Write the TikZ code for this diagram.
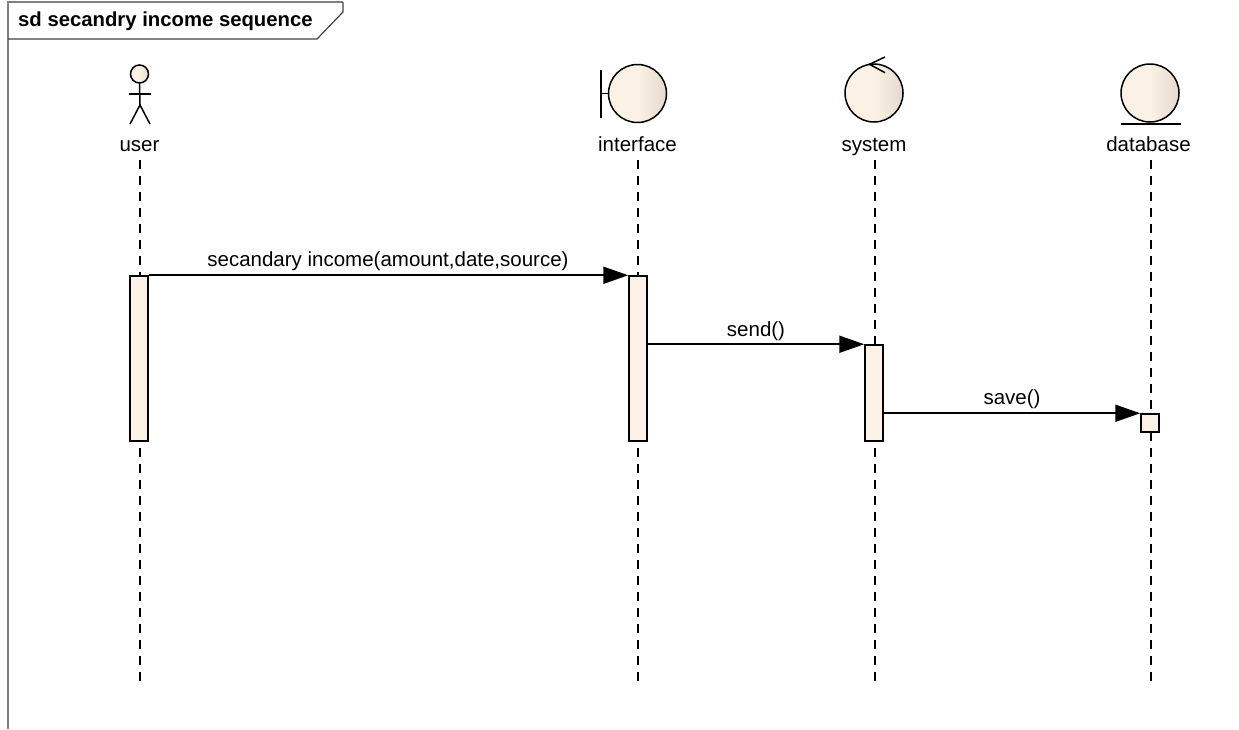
\documentclass[tikz,border=0pt]{standalone}
\usepackage{fontspec}
\setmainfont{Liberation Sans}
\usetikzlibrary{arrows.meta}
\definecolor{boxfill}{HTML}{FBF1E4}
\definecolor{orbedge}{HTML}{E3DACD}
\definecolor{framegray}{HTML}{7F7F7F}
\pgfdeclarehorizontalshading{orbshade}{100bp}{color(0bp)=(boxfill); color(50bp)=(boxfill); color(75bp)=(orbedge); color(100bp)=(orbedge)}
\tikzset{
  orb/.style={circle,draw=black,line width=1.5pt,shading=orbshade,minimum size=58pt,inner sep=0pt},
  glyph/.style={line width=1.5pt,draw=black},
  lifeline/.style={line width=1.6pt,draw=black,dash pattern=on 9pt off 7pt},
  activation/.style={rectangle,draw=black,line width=1.5pt,fill=boxfill,inner sep=0pt,minimum width=18pt},
  msg/.style={line width=1.9pt,draw=black,-{Triangle[length=25pt,width=17pt]}},
  label/.style={font=\fontsize{20.5}{24}\selectfont,inner sep=0pt,text=black,anchor=base},
  titlelabel/.style={font=\fontsize{20.3}{24}\selectfont\bfseries,inner sep=0pt,text=black,anchor=base west},
  framegrayline/.style={line width=1.5pt,draw=framegray},
  framedark/.style={line width=1.2pt,draw=black!75}
}
\begin{document}
\begin{tikzpicture}[x=1pt,y=-1pt]
\useasboundingbox (0,0) rectangle (1239,729);
% frame
\coordinate (fa) at (8,729);
\coordinate (fb) at (8,2);
\coordinate (fc) at (343,2);
\coordinate (fd) at (343,12);
\coordinate (fe) at (317,39);
\coordinate (ff) at (8,39);
\draw[framegrayline] (fa) -- (fb) -- (fc);
\draw[framedark] (fc) -- (fd) -- (fe) -- (ff);
\node[titlelabel] (title) at (18,26.5) {sd secandry income sequence};
% lifelines
\coordinate (ut) at (140,160);  \coordinate (ub) at (140,688);
\coordinate (it) at (638,160);  \coordinate (ib) at (638,688);
\coordinate (st) at (875,160);  \coordinate (sb) at (875,688);
\coordinate (dt) at (1151,160); \coordinate (db) at (1151,688);
\draw[lifeline] (ut) -- (ub);
\draw[lifeline] (it) -- (ib);
\draw[lifeline] (st) -- (sb);
\draw[lifeline] (dt) -- (db);
% actor
\node[circle,draw=black,line width=1.5pt,shading=orbshade,minimum size=18pt,inner sep=0pt] (head) at (139.5,74) {};
\coordinate (hip) at (140,105);
\coordinate (armL) at (129,94);
\coordinate (armR) at (151,94);
\coordinate (legL) at (130,124);
\coordinate (legR) at (150,124);
\draw[glyph] (head.south) -- (hip);
\draw[glyph] (armL) -- (armR);
\draw[glyph] (legL) -- (hip) -- (legR);
\node[label] (user) at (139.5,151) {user};
% interface
\node[orb] (iface) at (637.5,93.5) {};
\coordinate (barT) at (601,70);
\coordinate (barB) at (601,118);
\draw[glyph] (barT) -- (barB);
\draw[glyph] (barT |- iface.west) -- (iface.west);
\node[label] (ifacel) at (637.5,151) {interface};
% system
\node[orb] (sys) at (874,93) {};
\coordinate (tip) at (869.5,64.3);
\coordinate (barbA) at (885,57);
\coordinate (barbB) at (885,72.7);
\draw[glyph] (barbA) -- (tip) -- (barbB);
\node[label] (sysl) at (874,151) {system};
% database
\node[orb] (dbase) at (1150,93) {};
\coordinate (baseL) at (1121,124);
\coordinate (baseR) at (1181,124);
\draw[glyph] (baseL) -- (baseR);
\node[label] (dbasel) at (1148.5,151) {database};
% activations
\node[activation,minimum height=165pt] (ua) at (139,358.5) {};
\node[activation,minimum height=165pt] (ia) at (638,358.5) {};
\node[activation,minimum height=96pt] (sa) at (874,393) {};
\node[activation,minimum height=18pt] (da) at (1150,423) {};
% messages
\draw[msg] (ua.north east) -- (ia.north west);
\draw[msg] (ia.east |- sa.north) -- (sa.north west);
\draw[msg] (sa.east |- da.north) -- (da.north west);
\node[label] (m1) at (388,266) {secandary income(amount,date,source)};
\node[label] (m2) at (756,336) {send()};
\node[label] (m3) at (1012,404.5) {save()};
\end{tikzpicture}
\end{document}
